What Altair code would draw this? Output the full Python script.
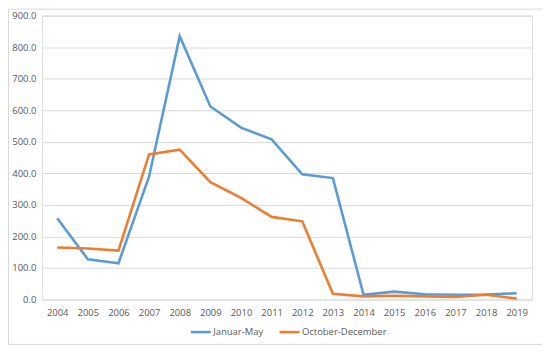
import altair as alt
import pandas as pd

years = [str(y) for y in range(2004, 2020)]
jan_may = [258, 128, 115, 390, 835, 612, 545, 508, 397, 385, 15, 25, 17, 15, 16, 20]
oct_dec = [165, 162, 155, 460, 475, 372, 322, 262, 248, 18, 10, 12, 10, 8, 15, 3]
series_names = ["Januar-May", "October-December"]
colors = ["#5B9BD5", "#ED7D31"]
y_ticks = [0, 100, 200, 300, 400, 500, 600, 700, 800, 900]

rows = []
for i, yr in enumerate(years):
    rows.append({"year": yr, "series": series_names[0], "value": jan_may[i]})
    rows.append({"year": yr, "series": series_names[1], "value": oct_dec[i]})
df = pd.DataFrame(rows)

W, H = 492, 285

border = alt.Chart(pd.DataFrame({"a": [0]})).mark_rect(
    fill="transparent", stroke="#d9d9d9", strokeWidth=1, clip=False
).encode(
    x=alt.value(-33.5), x2=alt.value(503), y=alt.value(-6.5), y2=alt.value(330)
)

lines = alt.Chart(df).mark_line(strokeWidth=2.6, clip=False).encode(
    x=alt.X("year:O", sort=years, scale=alt.Scale(type="point", padding=0.5),
            axis=alt.Axis(title=None, labelAngle=0, domain=False, ticks=False,
                          labelColor="#595959", labelFontSize=9.5, labelFont="Open Sans",
                          labelPadding=8)),
    y=alt.Y("value:Q", scale=alt.Scale(domain=[0, 900], nice=False),
            axis=alt.Axis(title=None, values=y_ticks, format=".1f", domain=False, ticks=False,
                          labelColor="#595959", labelFontSize=9.5, labelFont="Open Sans",
                          labelPadding=6, gridColor="#d9d9d9", gridWidth=1)),
    color=alt.Color("series:N", scale=alt.Scale(domain=series_names, range=colors),
                    legend=alt.Legend(title=None, orient="none", direction="horizontal",
                                      legendX=148, legendY=306,
                                      symbolType="stroke", symbolSize=400,
                                      symbolStrokeWidth=2.6, labelColor="#595959",
                                      labelFontSize=9.5, labelFont="Open Sans",
                                      columnPadding=10, labelOffset=1)),
    detail="series:N",
)

chart = alt.layer(border, lines).properties(
    width=W, height=H,
    autosize=alt.AutoSizeParams(type="none"),
    padding={"left": 34, "top": 7, "right": 10, "bottom": 50},
).configure_view(stroke=None).configure(background="white")

chart.save("out.html", embed_options={"renderer": "svg", "actions": False})
